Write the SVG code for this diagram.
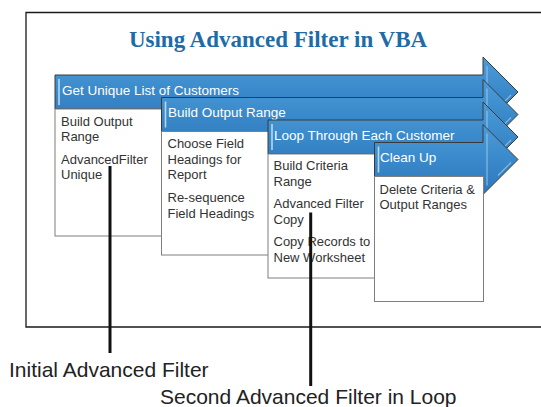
<svg xmlns="http://www.w3.org/2000/svg" width="541" height="407" viewBox="0 0 541 407">
<defs>
<linearGradient id="blue" x1="0" y1="0" x2="0" y2="1">
<stop offset="0" stop-color="#4C9CD9"/>
<stop offset="0.5" stop-color="#3A89CA"/>
<stop offset="1" stop-color="#2C78BB"/>
</linearGradient>
<style>
.arrow{fill:url(#blue);stroke:#3a3a3a;stroke-width:1}
.hl{stroke:#CDE6F7;stroke-width:1.6;fill:none;opacity:0.85}
.hl2{stroke:#A9D2F0;stroke-width:1.2;fill:none;opacity:0.7}
.box{fill:#ffffff;stroke:#7f7f7f;stroke-width:1}
.at{font-family:"Liberation Sans",Arial,sans-serif;font-size:13.5px;fill:#ffffff}
.bt{font-family:"Liberation Sans",Arial,sans-serif;font-size:13px;fill:#333333}
.title{font-family:"Liberation Serif","Times New Roman",serif;font-weight:bold;font-size:23px;fill:#1E6BA8}
.lbl{font-family:"Liberation Sans",Arial,sans-serif;font-size:21px;fill:#222222}
.call{stroke:#111111;stroke-width:3;fill:none}
</style>
</defs>
<rect width="541" height="407" fill="#ffffff"/>
<path d="M545,12.5 H26 V327 H545" fill="none" stroke="#1a1a1a" stroke-width="1.3"/>
<text class="title" x="278" y="46.5" text-anchor="middle">Using Advanced Filter in VBA</text>

<g id="step1">
<path class="arrow" d="M55,75 H483 V57 L518,92 L483,127 V109 H55 Z"/>
<line class="hl" x1="59" y1="79" x2="59" y2="105"/>
<line class="hl2" x1="487" y1="66" x2="487" y2="118"/>
<line class="hl2" x1="511" y1="95" x2="498" y2="108"/>
<text class="at" x="62" y="94.5">Get Unique List of Customers</text>
<rect class="box" x="55" y="109" width="110" height="127"/>
<text class="bt" x="61" y="125.5">Build Output</text>
<text class="bt" x="61" y="141">Range</text>
<text class="bt" x="61" y="163.5">AdvancedFilter</text>
<text class="bt" x="61" y="179">Unique</text>
</g>

<g id="step2">
<path class="arrow" d="M161.5,97.5 H483 V79.5 L518,114.5 L483,149.5 V131.5 H161.5 Z"/>
<line class="hl" x1="165.5" y1="101.5" x2="165.5" y2="127.5"/>
<line class="hl2" x1="487" y1="88.5" x2="487" y2="140.5"/>
<line class="hl2" x1="511" y1="117.5" x2="498" y2="130.5"/>
<text class="at" x="168" y="117">Build Output Range</text>
<rect class="box" x="161.5" y="131.5" width="110" height="123.5"/>
<text class="bt" x="167.5" y="148">Choose Field</text>
<text class="bt" x="167.5" y="163.5">Headings for</text>
<text class="bt" x="167.5" y="179">Report</text>
<text class="bt" x="167.5" y="202">Re-sequence</text>
<text class="bt" x="167.5" y="217.5">Field Headings</text>
</g>

<g id="step3">
<path class="arrow" d="M268,120 H483 V102 L518,137 L483,172 V154 H268 Z"/>
<line class="hl" x1="272" y1="124" x2="272" y2="150"/>
<line class="hl2" x1="487" y1="111" x2="487" y2="163"/>
<line class="hl2" x1="511" y1="140" x2="498" y2="153"/>
<text class="at" x="274" y="139.5">Loop Through Each Customer</text>
<rect class="box" x="268" y="154" width="110" height="124"/>
<text class="bt" x="273.5" y="170">Build Criteria</text>
<text class="bt" x="273.5" y="185.5">Range</text>
<text class="bt" x="273.5" y="208">Advanced Filter</text>
<text class="bt" x="273.5" y="223.5">Copy</text>
<text class="bt" x="273.5" y="246">Copy Records to</text>
<text class="bt" x="273.5" y="261.5">New Worksheet</text>
</g>

<g id="step4">
<path class="arrow" d="M374.5,142.5 H483 V124.5 L518,159.5 L483,194.5 V176.5 H374.5 Z"/>
<line class="hl" x1="378.5" y1="146.5" x2="378.5" y2="172.5"/>
<line class="hl2" x1="487" y1="133.5" x2="487" y2="185.5"/>
<line class="hl2" x1="511" y1="162.5" x2="498" y2="175.5"/>
<text class="at" x="380" y="162">Clean Up</text>
<rect class="box" x="374.5" y="176.5" width="109" height="125"/>
<text class="bt" x="379.5" y="193.5">Delete Criteria &amp;</text>
<text class="bt" x="379.5" y="209">Output Ranges</text>
</g>

<g id="connectors">
<line class="call" x1="110" y1="166" x2="110" y2="353"/>
<line class="call" x1="310.7" y1="212.5" x2="310.7" y2="386"/>
</g>

<g id="labels">
<text class="lbl" x="9" y="376.5">Initial Advanced Filter</text>
<text class="lbl" x="160" y="403.5">Second Advanced Filter in Loop</text>
</g>
</svg>
